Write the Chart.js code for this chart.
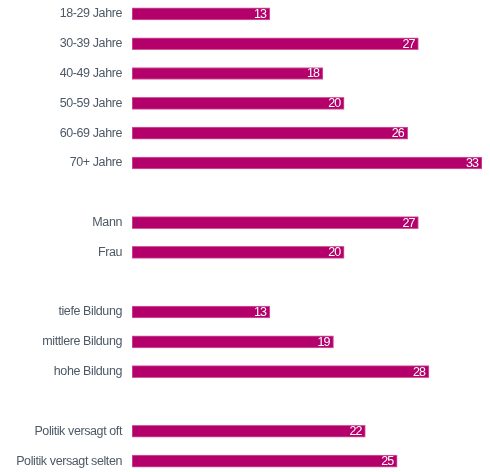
<!DOCTYPE html>
<html><head><meta charset="utf-8">
<script src="https://cdn.jsdelivr.net/npm/chart.js@4"></script>
<style>
html,body{margin:0;padding:0;background:#fff;overflow:hidden;width:490px;height:472px}
#wrap{position:absolute;left:0;top:-1px;width:490px;height:477px}
</style></head><body>
<div id="wrap"><canvas id="c"></canvas></div>
<script>
const categories = ["18-29 Jahre","30-39 Jahre","40-49 Jahre","50-59 Jahre","60-69 Jahre","70+ Jahre","",
  "Mann","Frau"," ",
  "tiefe Bildung","mittlere Bildung","hohe Bildung","  ",
  "Politik versagt oft","Politik versagt selten"];
const values = [13,27,18,20,26,33,null,27,20,null,13,19,28,null,22,25];
const xMax = 33;

const valueLabels = {
  id:'valueLabels',
  afterDatasetsDraw(chart){
    const ctx = chart.ctx;
    const meta = chart.getDatasetMeta(0);
    ctx.save();
    ctx.font = '12.5px "Liberation Sans", Arial, sans-serif';
    ctx.letterSpacing = '-1px';
    ctx.fillStyle = '#ffffff';
    ctx.textAlign = 'right';
    ctx.textBaseline = 'middle';
    meta.data.forEach((bar,i)=>{
      const v = values[i];
      if (v === null) return;
      ctx.fillText(String(v), bar.x - 4, bar.y + 0.5);
    });
    ctx.restore();
  }
};
const spacing = {
  id:'spacing',
  beforeDraw(chart){ chart.ctx.letterSpacing = '-0.4px'; }
};

new Chart(document.getElementById('c'), {
  type:'bar',
  data:{
    labels: categories,
    datasets:[{
      data: values,
      backgroundColor:'#b3006b',
      borderColor:'#d45a9c',
      borderWidth:1,
      borderSkipped:false,
      barThickness:12
    }]
  },
  options:{
    indexAxis:'y',
    responsive:true,
    maintainAspectRatio:false,
    animation:false,
    layout:{padding:{left:0,right:8,top:0,bottom:0}},
    plugins:{legend:{display:false},tooltip:{enabled:false}},
    scales:{
      x:{min:0,max:xMax,display:false},
      y:{
        grid:{display:false,drawBorder:false},
        border:{display:false},
        ticks:{
          color:'#4d5965',
          padding:2,
          font:{family:'"Liberation Sans", Arial, sans-serif',size:12.5}
        },
        afterFit(scale){ scale.width = 132; scale.paddingTop = 0; scale.paddingBottom = 0; }
      }
    }
  },
  plugins:[spacing, valueLabels]
});
</script>
</body></html>
